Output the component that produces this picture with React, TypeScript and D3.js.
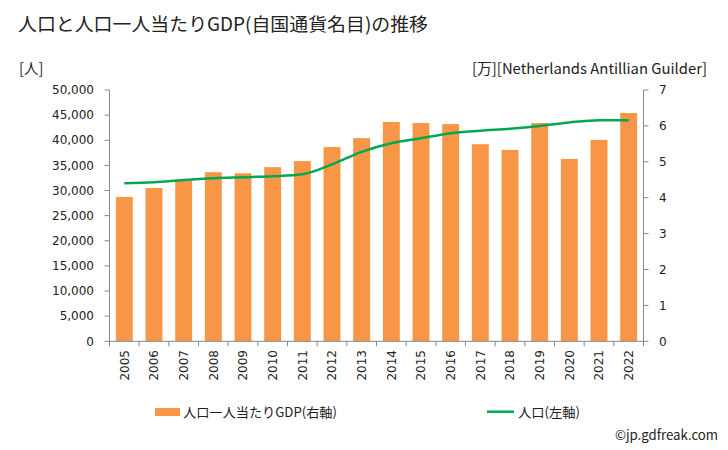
import React from "react";
import * as d3 from "d3";

const years = ["2005","2006","2007","2008","2009","2010","2011","2012","2013","2014","2015","2016","2017","2018","2019","2020","2021","2022"];
const gdpPerCapita = [4.02, 4.27, 4.51, 4.71, 4.68, 4.85, 5.02, 5.41, 5.66, 6.11, 6.08, 6.05, 5.49, 5.33, 6.08, 5.08, 5.61, 6.36];
const population = [31450, 31650, 32100, 32450, 32650, 32850, 33250, 35200, 37700, 39400, 40400, 41400, 41900, 42300, 42850, 43550, 44000, 44000];
const leftTicks = [0, 5000, 10000, 15000, 20000, 25000, 30000, 35000, 40000, 45000, 50000];
const rightTicks = [0, 1, 2, 3, 4, 5, 6, 7];

const W = 728, H = 450;
const L = 109.5, R = 643.5, T = 90, B = 341.3;
const jp = "'Noto Sans CJK JP', 'Noto Sans', sans-serif";
const num = "'DejaVu Sans', Verdana, sans-serif";
const axisColor = "#888";

export default function App() {
  const x = d3.scaleBand<string>().domain(years).range([L, R]).paddingInner(0.43).paddingOuter(0.215);
  const xb = d3.scaleBand<string>().domain(years).range([L, R]);
  const yL = d3.scaleLinear().domain([0, 50000]).range([B, T]);
  const yR = d3.scaleLinear().domain([0, 7]).range([B, T]);
  const line = d3.line<number>()
    .x((_, i) => (xb(years[i]) as number) + xb.bandwidth() / 2)
    .y((d) => yL(d))
    .curve(d3.curveMonotoneX);
  const fmt = d3.format(",");
  return (
    <svg width={W} height={H} style={{ position: "absolute", left: 0, top: 0, background: "#fff" }}>
      <text x={18} y={31} fontFamily={jp} fontSize={18.5} fill="#222" textLength={410} lengthAdjust="spacingAndGlyphs">人口と人口一人当たりGDP(自国通貨名目)の推移</text>
      <text x={19} y={74} fontFamily={jp} fontSize={14.5} fill="#222">[人]</text>
      <text x={472} y={74} fontFamily={jp} fontSize={14.5} fill="#222" textLength={235} lengthAdjust="spacingAndGlyphs">[万][Netherlands Antillian Guilder]</text>

      {years.map((yr, i) => (
        <rect key={yr} x={x(yr)} y={yR(gdpPerCapita[i])} width={x.bandwidth()} height={B - yR(gdpPerCapita[i])} fill="#f79646" />
      ))}
      <path d={line(population) || ""} fill="none" stroke="#00a84f" strokeWidth={2.5} />

      {/* left axis */}
      <line x1={L} x2={L} y1={T} y2={B} stroke={axisColor} />
      {leftTicks.map((t) => (
        <g key={t}>
          <line x1={L - 5} x2={L} y1={yL(t)} y2={yL(t)} stroke={axisColor} />
          <text x={94} y={yL(t)} dy="0.35em" textAnchor="end" fontFamily={num} fontSize={12} fill="#222">{fmt(t)}</text>
        </g>
      ))}
      {/* right axis */}
      <line x1={R} x2={R} y1={T} y2={B} stroke={axisColor} />
      {rightTicks.map((t) => (
        <g key={t}>
          <line x1={R} x2={R + 5} y1={yR(t)} y2={yR(t)} stroke={axisColor} />
          <text x={659} y={yR(t)} dy="0.35em" fontFamily={num} fontSize={12} fill="#222">{t}</text>
        </g>
      ))}
      {/* bottom axis */}
      <line x1={L} x2={R} y1={B} y2={B} stroke={axisColor} />
      {years.map((yr) => (
        <line key={"t" + yr} x1={xb(yr)} x2={xb(yr)} y1={B} y2={B + 5} stroke={axisColor} />
      ))}
      <line x1={R} x2={R} y1={B} y2={B + 5} stroke={axisColor} />
      {years.map((yr) => {
        const cx = (xb(yr) as number) + xb.bandwidth() / 2;
        return (
          <text key={"l" + yr} transform={`translate(${cx},${350}) rotate(-90)`} textAnchor="end" dy="0.35em" fontFamily={num} fontSize={12} fill="#222">{yr}</text>
        );
      })}

      {/* legend */}
      <rect x={155} y={408} width={25} height={8} fill="#f79646" />
      <text x={183} y={417} fontFamily={jp} fontSize={13} fill="#222" textLength={154} lengthAdjust="spacingAndGlyphs">人口一人当たりGDP(右軸)</text>
      <line x1={487} x2={514} y1={411.7} y2={411.7} stroke="#00a84f" strokeWidth={2.5} />
      <text x={518} y={417} fontFamily={jp} fontSize={13} fill="#222" textLength={62} lengthAdjust="spacingAndGlyphs">人口(左軸)</text>

      <text x={615} y={440} fontFamily={jp} fontSize={13.5} fill="#222" textLength={103} lengthAdjust="spacingAndGlyphs">©jp.gdfreak.com</text>
    </svg>
  );
}
